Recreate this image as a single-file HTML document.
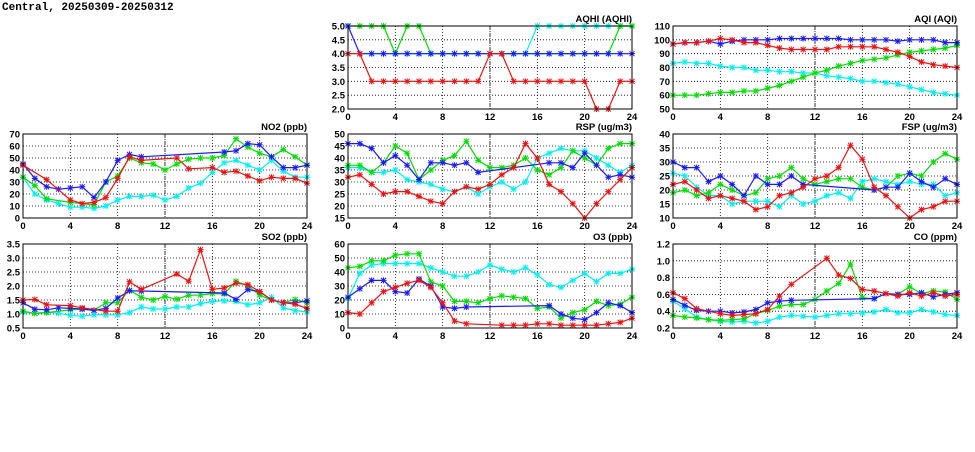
<!DOCTYPE html>
<html><head><meta charset="utf-8"><style>
html,body{margin:0;padding:0;background:#fff;}
svg text{font-family:"Liberation Sans",sans-serif;font-weight:bold;font-size:9.5px;fill:#000;}
</style></head><body>
<svg id="s" width="975" height="447" xmlns="http://www.w3.org/2000/svg">
<text x="2" y="10" style="font-family:'Liberation Mono',monospace;font-size:11px">Central, 20250309-20250312</text>
</svg>
<script>
var P=[
{t:"AQHI (AQHI)",x:348,y:26,h:83,mn:2,mx:5,st:0.5,dec:1,d:{
c:"4 4 4 4 4 4 4 4 4 4 4 4 4 4 4 4 5 5 5 5 5 5 5 5 5",
g:"5 5 5 5 4 5 5 4 4 4 4 4 4 4 4 4 4 4 4 4 4 4 4 5 5",
b:"5 4 4 4 4 4 4 4 4 4 4 4 4 4 4 4 4 4 4 4 4 4 4 4 4",
r:"4 4 3 3 3 3 3 3 3 3 3 3 4 4 3 3 3 3 3 3 3 2 2 3 3"}},
{t:"AQI (AQI)",x:673,y:26,h:83,mn:50,mx:110,st:10,dec:0,d:{
c:"83 84 83 83 81 80 80 78 78 77 77 76 76 74 73 72 70 70 69 68 66 64 62 61 60",
g:"60 60 60 61 62 62 63 63 65 67 70 73 76 78 81 83 85 86 87 89 91 92 93 94 96",
b:"97 98 98 99 97 99 100 100 100 101 101 101 101 101 101 100 100 100 100 99 100 100 100 98 98",
r:"97 98 98 99 101 100 98 98 96 94 93 93 93 93 95 95 95 95 93 91 88 84 82 81 80"}},
{t:"NO2 (ppb)",x:23,y:134,h:84,mn:0,mx:70,st:10,dec:0,d:{
c:"34 20 15 12 9 9 8 10 15 18 18 19 15 18 25 29 38 46 48 44 40 48 39 34 34",
g:"34 27 16 - 13 - 11 30 35 50 46 45 40 45 49 50 50 52 66 59 54 51 57 51 44",
b:"45 33 26 24 25 26 17 30 48 53 51 - - - - - - 55 56 62 61 51 42 42 44",
r:"44 - 32 - 15 12 13 17 33 51 48 - - 50 41 - 42 38 39 35 31 34 33 33 29"}},
{t:"RSP (ug/m3)",x:348,y:134,h:84,mn:15,mx:50,st:5,dec:0,d:{
c:"36 36 34 34 35 31 30 29 27 26 28 25 28 30 27 30 40 42 44 43 43 40 37 34 37",
g:"37 37 34 38 45 42 31 35 39 41 47 39 36 36 37 40 35 33 36 43 40 37 44 46 46",
b:"46 46 44 38 41 37 31 38 38 37 38 34 - - - - - 38 38 36 42 37 32 33 32",
r:"32 33 29 25 26 26 24 22 21 26 28 27 29 33 36 46 40 29 26 21 15 21 26 31 36"}},
{t:"FSP (ug/m3)",x:673,y:134,h:84,mn:10,mx:40,st:5,dec:0,d:{
c:"26 25 21 18 18 15 16 16 16 14 18 15 16 18 19 17 23 24 23 22 23 22 22 18 19",
g:"19 20 18 19 22 20 18 19 24 25 28 24 22 23 24 24 21 20 21 25 26 25 30 33 31",
b:"30 28 28 23 25 22 18 25 22 22 25 22 - - - - - 20 21 21 26 23 21 24 22",
r:"22 23 20 17 18 17 16 13 14 18 19 21 24 25 28 36 31 21 18 14 10 13 14 16 16"}},
{t:"SO2 (ppb)",x:23,y:244,h:84,mn:0.5,mx:3.5,st:0.5,dec:1,d:{
c:"1.07 1.02 1.07 1.03 0.95 0.92 0.97 0.97 0.97 1.05 1.25 1.18 1.18 1.25 1.25 1.37 1.45 1.47 1.45 1.33 1.4 1.6 1.22 1.12 1.07",
g:"1.1 1.02 1.05 - 1.15 1.17 1.13 1.4 1.4 1.85 1.6 1.5 1.62 1.53 1.67 1.68 1.73 1.72 2.17 2 1.68 1.5 1.4 1.52 1.4",
b:"1.4 1.17 1.15 1.22 1.2 1.18 1.13 1.2 1.57 1.83 1.82 - - - - - - 1.75 1.52 1.87 1.8 1.5 1.4 1.4 1.47",
r:"1.5 1.52 1.33 - 1.3 1.22 - 1.1 1.1 2.15 1.88 - - 2.43 2.17 3.3 1.88 1.93 2.1 2.05 1.8 1.5 1.4 1.35 1.2"}},
{t:"O3 (ppb)",x:348,y:244,h:84,mn:0,mx:60,st:10,dec:0,d:{
c:"21 39 45 46 46 46 46 43 40 37 37 40 45 42 40 43 38 31 29 34 39 33 39 39 42",
g:"43 44 48 48 52 53 53 33 30 19 19 18 21 23 22 21 14 15 7 11 13 19 16 17 22",
b:"22 28 34 34 26 25 35 30 15 14 15 - - - - - - 16 10 7 6 11 18 16 11",
r:"11 10 18 26 29 32 34 29 18 5 3 - - 2 2 2 3 3 2 2 2 2 3 4 7"}},
{t:"CO (ppm)",x:673,y:244,h:84,mn:0.2,mx:1.2,st:0.2,dec:1,d:{
c:"0.52 0.43 0.33 0.3 0.28 0.27 0.28 0.26 0.28 0.33 0.35 0.34 0.33 0.35 0.37 0.37 0.38 0.39 0.42 0.38 0.38 0.42 0.39 0.36 0.35",
g:"0.35 0.33 0.32 0.3 0.29 0.3 0.31 0.37 0.41 0.46 0.48 0.48 0.54 0.64 0.73 0.96 0.56 0.55 0.61 0.6 0.69 0.61 0.64 0.63 0.54",
b:"0.54 0.47 0.41 0.4 0.4 0.38 0.39 0.42 0.5 0.52 0.53 - - - - - - 0.55 0.61 0.6 0.6 0.62 0.57 0.6 0.62",
r:"0.62 0.55 0.43 - 0.37 0.35 0.36 0.37 0.42 0.58 0.72 - - 1.03 0.83 0.79 0.66 0.64 0.61 0.58 0.62 0.58 0.62 0.58 0.6"}}
];
var col={c:"#00f0f0",g:"#00dd00",b:"#1a1aff",r:"#ee1111"};
var s="",W=284;
P.forEach(function(p){
 var X=function(i){return p.x+i*W/24},Y=function(v){return p.y+p.h-(v-p.mn)/(p.mx-p.mn)*p.h};
 s+='<text x="'+(p.x+W)+'" y="'+(p.y-4)+'" text-anchor="end">'+p.t+'</text>';
 var n=Math.round((p.mx-p.mn)/p.st);
 for(var k=0;k<=n;k++){var v=p.mn+k*p.st,y=Y(v);
  if(k>0&&k<n)s+='<line x1="'+p.x+'" x2="'+(p.x+W)+'" y1="'+y+'" y2="'+y+'" stroke="#000" stroke-width="0.8" stroke-dasharray="1,2"/>';
  s+='<text x="'+(p.x-3)+'" y="'+(y+3.5)+'" text-anchor="end">'+v.toFixed(p.dec)+'</text>';}
 for(var h=0;h<=24;h+=4){var x=X(h);
  if(h>0&&h<24)s+='<line x1="'+x+'" x2="'+x+'" y1="'+p.y+'" y2="'+(p.y+p.h)+'" stroke="#000" stroke-width="0.8" stroke-dasharray="'+(h==12?'4,1,1,1':'1,2')+'"/>';
  s+='<text x="'+x+'" y="'+(p.y+p.h+11)+'" text-anchor="middle">'+h+'</text>';}
 ["c","g","b","r"].forEach(function(k){
  var a=p.d[k].split(" "),pts=[],m="";
  a.forEach(function(v,i){if(v!="-"){var x=X(i),y=Y(+v);pts.push(x.toFixed(1)+","+y.toFixed(1));
   m+='M'+(x-2.5)+','+(y-2.5)+'l5,5M'+(x-2.5)+','+(y+2.5)+'l5,-5M'+(x-3)+','+y+'h6M'+x+','+(y-3)+'v6';}});
  s+='<polyline points="'+pts.join(" ")+'" fill="none" stroke="'+col[k]+'" stroke-width="1.2"/>';
  s+='<path d="'+m+'" stroke="'+col[k]+'" stroke-width="1" fill="none"/>';
 });
 s+='<rect x="'+p.x+'" y="'+p.y+'" width="'+W+'" height="'+p.h+'" fill="none" stroke="#000" stroke-width="1"/>';
});
document.getElementById("s").insertAdjacentHTML("beforeend",s);
</script>
</body></html>
